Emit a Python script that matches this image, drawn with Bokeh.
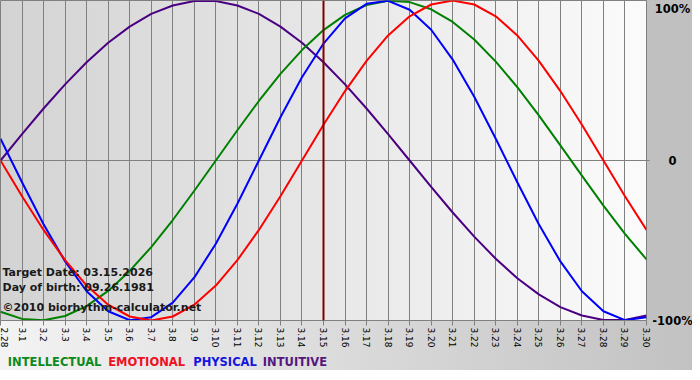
import math
from bokeh.plotting import figure
from bokeh.layouts import row, column
from bokeh.models import Range1d, FixedTicker, Span, Label, ColumnDataSource
from bokeh.core.properties import value
from bokeh.embed import file_html
from bokeh.resources import INLINE

# ---- data ----
dates = ["2.28", "3.1", "3.2", "3.3", "3.4", "3.5", "3.6", "3.7", "3.8", "3.9",
         "3.10", "3.11", "3.12", "3.13", "3.14", "3.15", "3.16", "3.17", "3.18",
         "3.19", "3.20", "3.21", "3.22", "3.23", "3.24", "3.25", "3.26", "3.27",
         "3.28", "3.29", "3.30"]
days = list(range(len(dates)))

intellectual = [-0.945, -0.990, -0.999, -0.972, -0.910, -0.815, -0.690, -0.541, -0.372, -0.189,
                0.0, 0.189, 0.372, 0.541, 0.690, 0.815, 0.910, 0.972, 0.999, 0.990,
                0.945, 0.866, 0.756, 0.618, 0.458, 0.282, 0.095, -0.095, -0.282, -0.458, -0.618]
emotional = [0.0, -0.223, -0.434, -0.623, -0.782, -0.901, -0.975, -1.0, -0.975, -0.901,
             -0.782, -0.623, -0.434, -0.223, 0.0, 0.223, 0.434, 0.623, 0.782, 0.901,
             0.975, 1.0, 0.975, 0.901, 0.782, 0.623, 0.434, 0.223, 0.0, -0.223, -0.434]
physical = [0.136, -0.136, -0.398, -0.631, -0.817, -0.942, -0.998, -0.979, -0.888, -0.731,
            -0.520, -0.270, 0.0, 0.270, 0.520, 0.731, 0.888, 0.979, 0.998, 0.942,
            0.817, 0.631, 0.398, 0.136, -0.136, -0.398, -0.631, -0.817, -0.942, -0.998, -0.979]
intuitive = [0.0, 0.165, 0.325, 0.476, 0.614, 0.736, 0.837, 0.916, 0.969, 0.997,
             0.997, 0.969, 0.916, 0.837, 0.736, 0.614, 0.476, 0.325, 0.165, 0.0,
             -0.165, -0.325, -0.476, -0.614, -0.736, -0.837, -0.916, -0.969, -0.997, -0.997, -0.969]

y_ticks = [-1, 0, 1]
y_tick_labels = ["-100%", "0", "100%"]
target_index = 15
info_lines = ["Target Date: 03.15.2026", "Day of birth: 09.26.1981", "\u00a92010 biorhythm-calculator.net"]
series_names = ["INTELLECTUAL", "EMOTIONAL", "PHYSICAL", "INTUITIVE"]

# ---- styling / layout ----
line_colors = ["#008000", "#ff0000", "#0000ff", "#4b0082"]
text_colors = ["#0c8a1c", "#ee1122", "#1515dd", "#55167f"]
FONT = "DejaVu Sans"
FRAME_W, FRAME_H = 646, 320
MAIN_W, MAIN_H = 652, 350
RIGHT_W = 40
LEG_H = 22
TOTAL_W = MAIN_W + RIGHT_W

bg = ("linear-gradient(to right, #d3d3d3, #fbfbfb) 0px 0px / %dpx %dpx no-repeat, "
      "linear-gradient(#c0c0c0, #c0c0c0) %dpx 0px / %dpx %dpx no-repeat, "
      "linear-gradient(to right, #f3f3f3, #c2c2c2) 0px %dpx / %dpx 50px no-repeat, "
      "#ffffff") % (FRAME_W, FRAME_H, FRAME_W, TOTAL_W - FRAME_W, FRAME_H, FRAME_H, TOTAL_W)

common = dict(output_backend="svg", toolbar_location=None, title=None,
              background_fill_color=None, border_fill_color=None)

# ---- main chart ----
p = figure(width=MAIN_W, height=MAIN_H, x_range=Range1d(0, 30), y_range=Range1d(-1, 1),
           y_axis_location="right",
           min_border_left=0, min_border_top=0,
           min_border_right=MAIN_W - FRAME_W, min_border_bottom=MAIN_H - FRAME_H,
           outline_line_color="#808080", **common)

p.xgrid.ticker = FixedTicker(ticks=days)
p.xgrid.grid_line_color = "#808080"
p.ygrid.ticker = FixedTicker(ticks=[0])
p.ygrid.grid_line_color = "#808080"

xa = p.xaxis[0]
xa.ticker = FixedTicker(ticks=days)
xa.major_label_overrides = {i: d for i, d in zip(days, dates)}
xa.major_label_orientation = -math.pi / 2
xa.major_label_text_font = FONT
xa.major_label_text_font_size = "9px"
xa.major_label_text_color = "#000000"
xa.major_label_standoff = 2
xa.major_tick_out = 5
xa.major_tick_in = 0
xa.major_tick_line_color = "#808080"
xa.minor_tick_line_color = None
xa.axis_line_color = "#808080"

ya = p.yaxis[0]
ya.ticker = FixedTicker(ticks=[0])
ya.major_label_overrides = {0: ""}
ya.major_label_text_font_size = "1px"
ya.major_label_standoff = 0
ya.major_tick_out = 3
ya.major_tick_in = 0
ya.major_tick_line_color = "#808080"
ya.minor_tick_line_color = None
ya.axis_line_color = None

for vals, col in zip([intuitive, intellectual, physical, emotional],
                     [line_colors[3], line_colors[0], line_colors[2], line_colors[1]]):
    p.line(days, vals, line_color=col, line_width=2, line_join="round")

p.add_layout(Span(location=target_index, dimension="height",
                  line_color="#800000", line_width=2))

for txt, yv in zip(info_lines, [-0.70, -0.794, -0.916]):
    p.add_layout(Label(x=0.093, y=yv, text=txt, text_font=FONT, text_font_style="bold",
                       text_font_size="11px", text_baseline="middle", text_color="#1a1a1a"))

# ---- right value labels ----
pr = figure(width=RIGHT_W, height=MAIN_H, x_range=Range1d(0, RIGHT_W),
            y_range=Range1d(-1 - (MAIN_H - FRAME_H) / (FRAME_H / 2), 1),
            x_axis_location=None, y_axis_location=None,
            min_border_left=0, min_border_right=0, min_border_top=0, min_border_bottom=0,
            outline_line_color=None, **common)
for fig in (p, pr):
    if "frame_align" in fig.properties():
        fig.frame_align = False
pr.grid.visible = False
label_pos = [-1.006, 0.0, 0.95]   # label centres, nudged inside like the reference
pr.text(x=[20, 20, 20], y=label_pos, text=y_tick_labels,
        text_font=value(FONT), text_font_style="bold", text_font_size="11.5px",
        text_align="center", text_baseline="middle", text_color="#000000")

# ---- legend strip ----
pl = figure(width=TOTAL_W, height=LEG_H, x_range=Range1d(0, TOTAL_W), y_range=Range1d(0, LEG_H),
            x_axis_location=None, y_axis_location=None,
            min_border_left=0, min_border_right=0, min_border_top=0, min_border_bottom=0,
            outline_line_color=None, **common)
if "frame_align" in pl.properties():
    pl.frame_align = False
pl.grid.visible = False
leg_src = ColumnDataSource(dict(x=[7.3, 107.7, 192.7, 262.3], y=[10.5] * 4,
                                text=series_names, color=text_colors))
pl.text(x="x", y="y", text="text", text_color="color", source=leg_src,
        text_font=value(FONT), text_font_style="bold", text_font_size="11.5px",
        text_align="left", text_baseline="middle")

layout = column(row(p, pr), pl, styles={"background": bg})

open("out.html", "w").write(file_html(layout, INLINE))
